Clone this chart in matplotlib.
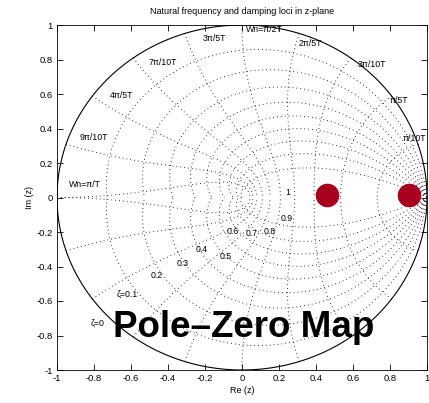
import numpy as np
import matplotlib
matplotlib.use('Agg')
import matplotlib.pyplot as plt

plt.rcParams['font.family'] = ['Liberation Sans', 'DejaVu Sans']

# poles of the system (real axis)
pole_re = [0.461, 0.904]
pole_im = [0.015, 0.015]

# grid values for zgrid
zeta_vals = [0.0, 0.1, 0.2, 0.3, 0.4, 0.5, 0.6, 0.7, 0.8, 0.9]
wn_frac = [0.1, 0.2, 0.3, 0.4, 0.5, 0.6, 0.7, 0.8, 0.9, 1.0]  # times pi/T

# labels and where they sit
wn_labels = ['\u03c0/10T', '\u03c0/5T', '3\u03c0/10T', '2\u03c0/5T', 'Wn=\u03c0/2T',
             '3\u03c0/5T', '7\u03c0/10T', '4\u03c0/5T', '9\u03c0/10T', 'Wn=\u03c0/T']
wn_lx = [0.935, 0.85, 0.70, 0.37, 0.12, -0.15, -0.43, -0.65, -0.80, -0.85]
wn_ly = [0.34, 0.56, 0.77, 0.89, 0.975, 0.92, 0.78, 0.59, 0.35, 0.075]
zeta_labels = ['\u03b6=0', '\u03b6=0.1', '0.2', '0.3', '0.4', '0.5', '0.6', '0.7', '0.8', '0.9', '1']
zeta_lx = [-0.78, -0.62, -0.46, -0.32, -0.22, -0.09, -0.05, 0.05, 0.15, 0.24, 0.25]
zeta_ly = [-0.73, -0.56, -0.45, -0.38, -0.30, -0.34, -0.20, -0.21, -0.20, -0.12, 0.03]

fig = plt.figure(figsize=(4.29, 4.03), dpi=100)
ax = fig.add_axes([57/429, 33/403, 370/429, 345/403])

dot = dict(color='k', linewidth=0.7, linestyle=(0, (0.8, 3.2)))

# damping loci: angle goes from 0 to pi
th = np.linspace(0, np.pi, 300)
for z in zeta_vals:
    p = np.exp(-z / np.sqrt(1 - z**2) * th + 1j * th)
    if z == 0:
        ax.plot(p.real, p.imag, color='k', linewidth=0.8)
        ax.plot(p.real, -p.imag, color='k', linewidth=0.8)
    else:
        ax.plot(p.real, p.imag, **dot)
        ax.plot(p.real, -p.imag, **dot)

# natural frequency loci
zz = np.linspace(0, 1, 200)
for f in wn_frac:
    wn = f * np.pi
    p = np.exp(wn * (-zz + 1j * np.sqrt(1 - zz**2)))
    ax.plot(p.real, p.imag, **dot)
    ax.plot(p.real, -p.imag, **dot)

for t, x, y in zip(wn_labels, wn_lx, wn_ly):
    ax.text(x, y, t, fontsize=6.3, ha='center', va='center')
for t, x, y in zip(zeta_labels, zeta_lx, zeta_ly):
    ax.text(x, y, t, fontsize=6.3, ha='center', va='center')

ax.plot(pole_re, pole_im, 'o', color='#a8001e', markersize=17, markeredgewidth=0)

ax.text(0.01, -0.806, 'Pole\u2013Zero Map', fontsize=26.5, fontweight='bold',
        ha='center', va='baseline')

ax.set_xlim(-1, 1)
ax.set_ylim(-1, 1)
ax.set_xticks(np.arange(-1, 1.01, 0.2))
ax.set_yticks(np.arange(-1, 1.01, 0.2))
ax.set_xticklabels(['-1', '-0.8', '-0.6', '-0.4', '-0.2', '0', '0.2', '0.4', '0.6', '0.8', '1'])
ax.set_yticklabels(['-1', '-0.8', '-0.6', '-0.4', '-0.2', '0', '0.2', '0.4', '0.6', '0.8', '1'])
ax.tick_params(direction='in', length=4, width=0.6, labelsize=6.8, top=True, right=True, pad=3)
for sp in ax.spines.values():
    sp.set_linewidth(0.6)
ax.set_xlabel('Re (z)', fontsize=6.5, labelpad=2)
ax.set_ylabel('Im (z)', fontsize=6.5, labelpad=2)
ax.set_title('Natural frequency and damping loci in z-plane', fontsize=6.5, pad=8)

fig.savefig('out.png', dpi=100)
